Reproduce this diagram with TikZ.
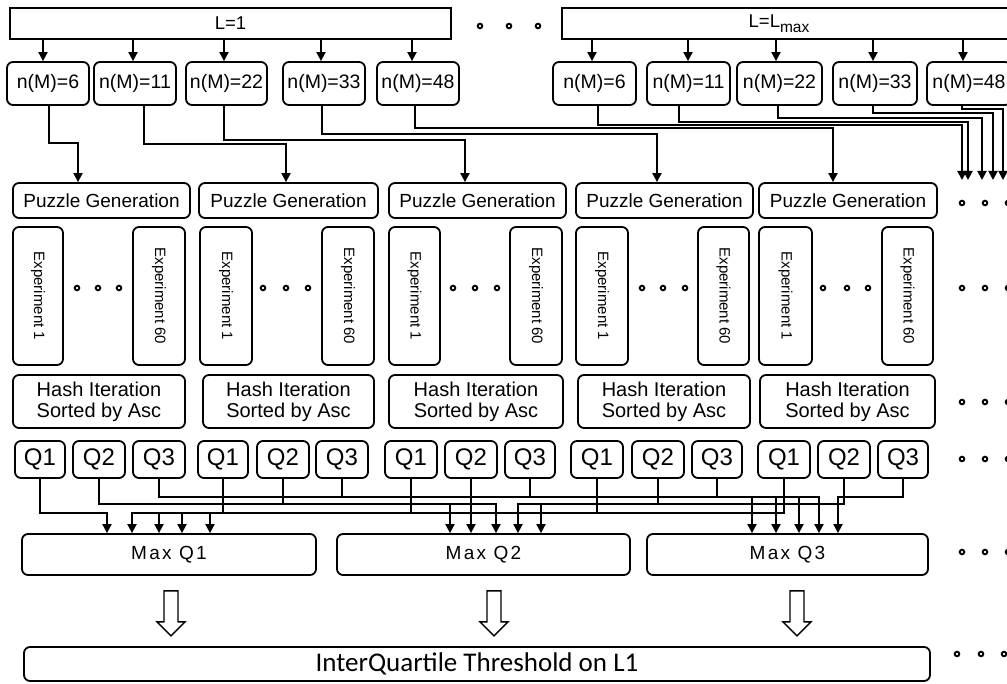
\documentclass[tikz,border=0pt]{standalone}
\usepackage{fontspec}
\usepackage{graphicx}
\setmainfont{Liberation Sans}
\newfontfamily\calfont{Carlito}
\usetikzlibrary{arrows.meta}
\newcommand\rb[7][]{%
  \pgfmathsetmacro\rbcx{(#3+#5)/2}%
  \pgfmathsetmacro\rbcy{(#4+#6)/2}%
  \pgfmathsetmacro\rbw{#5-#3}%
  \pgfmathsetmacro\rbh{#6-#4}%
  \node[box,minimum width=\rbw pt,minimum height=\rbh pt,#1] (#2) at (\rbcx,\rbcy) {#7};}
\newcommand\ringrow[4]{\foreach \dd in {#1,#2,#3} \draw[dotring] (\dd,#4) circle (2.3pt);}
\begin{document}
\begin{tikzpicture}[x=1pt,y=-1pt,
  box/.style={draw,line width=1.8pt,rounded corners=6pt,inner sep=0pt,align=center},
  sq/.style={rounded corners=0pt},
  arr/.style={line width=1.9pt,-{Triangle[width=9pt,length=9pt]}},
  dotring/.style={line width=1.9pt},
  hol/.style={line width=1.4pt,fill=white,line join=miter},
  fL/.style={font=\fontsize{18.5}{18.5}\selectfont},
  fN/.style={font=\fontsize{19.5}{19.5}\selectfont},
  fP/.style={font=\fontsize{19}{19}\selectfont},
  fE/.style={font=\fontsize{15}{15}\selectfont},
  fH/.style={font=\fontsize{20}{21}\selectfont},
  fQ/.style={font=\fontsize{24}{24}\selectfont},
  fM/.style={font=\fontsize{19}{19}\selectfont\addfontfeature{LetterSpace=12}},
  fF/.style={font=\calfont\fontsize{27}{27}\selectfont}]
\useasboundingbox (0,0) rectangle (1007,684);
\clip (0,0) rectangle (1007,684);

% top level boxes
\rb[sq,fL]{L1}{10}{8}{451}{39}{L=1}
\rb[sq,fL]{Lm}{562}{8}{1012}{39}{\hspace*{-16pt}L=L\raisebox{-5pt}{\fontsize{15.5}{15.5}\selectfont max}}
\ringrow{480}{509}{538}{26}

% n(M) boxes
\rb[fN]{nl1}{7}{62}{89}{105}{n(M)=6}
\rb[fN]{nl2}{94}{62}{176}{105}{n(M)=11}
\rb[fN]{nl3}{186}{62}{267}{105}{n(M)=22}
\rb[fN]{nl4}{283}{62}{365}{105}{n(M)=33}
\rb[fN]{nl5}{377}{62}{459}{105}{n(M)=48}
\rb[fN]{nr1}{553}{62}{636}{105}{n(M)=6}
\rb[fN]{nr2}{647}{62}{730}{105}{n(M)=11}
\rb[fN]{nr3}{737}{62}{822}{105}{n(M)=22}
\rb[fN]{nr4}{833}{62}{917}{105}{n(M)=33}
\rb[fN]{nr5}{927}{62}{1011}{105}{n(M)=48}

\foreach \i/\xx in {1/43,2/133,3/224,4/321,5/412}
  \draw[arr] (L1.south -| \xx,0) -- (nl\i.north -| \xx,0);
\foreach \i/\xx in {1/592,2/688,3/776,4/873,5/963}
  \draw[arr] (Lm.south -| \xx,0) -- (nr\i.north -| \xx,0);

% puzzle generation
\rb[fP]{pg1}{13}{183}{190}{218}{Puzzle Generation}
\rb[fP]{pg2}{199}{183}{378}{218}{Puzzle Generation}
\rb[fP]{pg3}{389}{183}{566}{218}{Puzzle Generation}
\rb[fP]{pg4}{576}{183}{753}{218}{Puzzle Generation}
\rb[fP]{pg5}{759}{183}{937}{218}{Puzzle Generation}
\ringrow{962}{985}{1008}{203}

% connectors n(M) -> puzzle generation
\foreach \i/\xa/\yy/\xb in {1/49/143/78,2/144/144/286,3/224/140/465,4/322/134/657,5/415/128/833}
  \draw[arr] (nl\i.south -| \xa,0) -- (\xa,\yy) -| (pg\i.north -| \xb,0);
\coordinate (e1) at (962,180);
\coordinate (e2) at (968,180);
\coordinate (e3) at (982,180);
\coordinate (e4) at (993,180);
\coordinate (e5) at (1003,180);
\foreach \i/\xa/\yy in {1/598/125,2/679/122,3/778/118,4/873/113,5/962/109}
  \draw[arr] (nr\i.south -| \xa,0) -- (\xa,\yy) -| (e\i);

% experiments
\rb[fE]{xa1}{13}{227}{63}{365}{\rotatebox{-90}{Experiment 1}}
\rb[fE]{xb1}{133}{227}{185}{365}{\rotatebox{-90}{Experiment 60}}
\rb[fE]{xa2}{200}{227}{252}{365}{\rotatebox{-90}{Experiment 1}}
\rb[fE]{xb2}{322}{227}{374}{365}{\rotatebox{-90}{Experiment 60}}
\rb[fE]{xa3}{389}{227}{440}{365}{\rotatebox{-90}{Experiment 1}}
\rb[fE]{xb3}{510}{227}{562}{365}{\rotatebox{-90}{Experiment 60}}
\rb[fE]{xa4}{576}{227}{628}{365}{\rotatebox{-90}{Experiment 1}}
\rb[fE]{xb4}{698}{227}{749}{365}{\rotatebox{-90}{Experiment 60}}
\rb[fE]{xa5}{759}{227}{812}{365}{\rotatebox{-90}{Experiment 1}}
\rb[fE]{xb5}{882}{227}{933}{365}{\rotatebox{-90}{Experiment 60}}
\ringrow{77}{98}{119}{288}
\ringrow{263}{286}{308}{288}
\ringrow{453}{475}{497}{288}
\ringrow{642}{663}{685}{288}
\ringrow{823}{847}{868}{288}
\ringrow{962}{985}{1008}{288}

% hash iteration
\rb[fH]{h1}{13}{375}{185}{428}{Hash Iteration\\Sorted by Asc}
\rb[fH]{h2}{203}{375}{374}{428}{Hash Iteration\\Sorted by Asc}
\rb[fH]{h3}{389}{375}{563}{428}{Hash Iteration\\Sorted by Asc}
\rb[fH]{h4}{578}{375}{750}{428}{Hash Iteration\\Sorted by Asc}
\rb[fH]{h5}{760}{375}{935}{428}{Hash Iteration\\Sorted by Asc}
\ringrow{962}{985}{1008}{402}

% quartile boxes
\rb[fQ]{qa1}{15}{441}{65}{478}{Q1}
\rb[fQ]{qb1}{73}{441}{125}{478}{Q2}
\rb[fQ]{qc1}{133}{441}{185}{478}{Q3}
\rb[fQ]{qa2}{198}{441}{248}{478}{Q1}
\rb[fQ]{qb2}{257}{441}{309}{478}{Q2}
\rb[fQ]{qc2}{316}{441}{368}{478}{Q3}
\rb[fQ]{qa3}{385}{441}{437}{478}{Q1}
\rb[fQ]{qb3}{445}{441}{497}{478}{Q2}
\rb[fQ]{qc3}{505}{441}{555}{478}{Q3}
\rb[fQ]{qa4}{571}{441}{623}{478}{Q1}
\rb[fQ]{qb4}{632}{441}{684}{478}{Q2}
\rb[fQ]{qc4}{692}{441}{742}{478}{Q3}
\rb[fQ]{qa5}{758}{441}{810}{478}{Q1}
\rb[fQ]{qb5}{818}{441}{870}{478}{Q2}
\rb[fQ]{qc5}{878}{441}{928}{478}{Q3}
\ringrow{962}{985}{1008}{459}

% max boxes
\rb[fM]{mq1}{22}{534}{316}{575}{Max Q1}
\rb[fM]{mq2}{337}{534}{630}{575}{Max Q2}
\rb[fM]{mq3}{647}{534}{928}{575}{Max Q3}
\ringrow{962}{985}{1008}{552}

% buses
\coordinate (b1) at (0,513);
\coordinate (b2) at (0,504);
\coordinate (b3) at (0,497);
\foreach \g/\tx in {1/107,2/132,3/159,4/182,5/210}
  \draw[arr] (qa\g.south) -- (qa\g.south |- b1) -| (mq1.north -| \tx,0);
\foreach \g/\tx in {1/450,2/496,4/518,5/541}
  \draw[arr] (qb\g.south) -- (qb\g.south |- b2) -| (mq2.north -| \tx,0);
\draw[arr] (qb3.south) -- (mq2.north -| qb3.south);
\foreach \g/\tx in {1/752,2/776,3/799,4/819,5/838}
  \draw[arr] (qc\g.south) -- (qc\g.south |- b3) -| (mq3.north -| \tx,0);

% final
\rb[fF]{fin}{24}{647}{930}{681}{InterQuartile Threshold on L1}
\ringrow{957}{981}{1004}{654}

% hollow arrows
\foreach \m/\xx in {mq1/171,mq2/494,mq3/797}
  \draw[hol] (\m.south -| \xx,0) ++(-7,15) -- ++(14,0) -- ++(0,31) -- ++(7,0) -- ++(-14,14) -- ++(-14,-14) -- ++(7,0) -- cycle;
\end{tikzpicture}
\end{document}
